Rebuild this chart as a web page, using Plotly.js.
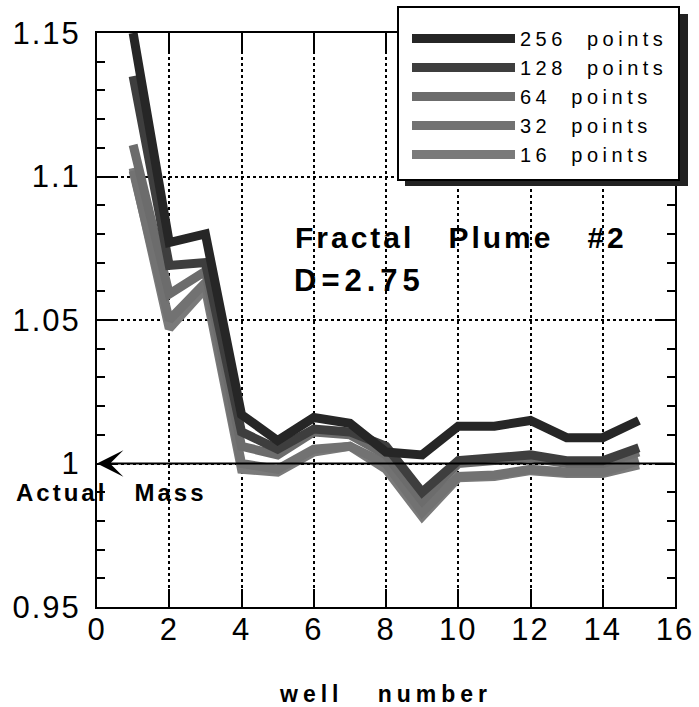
<!DOCTYPE html>
<html>
<head>
<meta charset="utf-8">
<script src="https://cdn.plot.ly/plotly-3.0.1.min.js"></script>
<style>
  html, body { margin: 0; padding: 0; background: #fff; }
  #chart { width: 699px; height: 707px; }
  .xtick text, .ytick text { letter-spacing: 2px; }
  .legendtext { letter-spacing: 4.5px; }
  .annotation-text { letter-spacing: 3px; }
  .annotation[data-index="3"] .annotation-text { letter-spacing: 5px; }
  .g-xtitle text { letter-spacing: 5px; }
</style>
</head>
<body>
<div id="chart"></div>
<script>
// ---- data ----
const wellNumber = [1, 2, 3, 4, 5, 6, 7, 8, 9, 10, 11, 12, 13, 14, 15];
const pts256 = [1.150, 1.077, 1.080, 1.017, 1.008, 1.016, 1.014, 1.004, 1.003, 1.013, 1.013, 1.015, 1.009, 1.009, 1.015];
const pts128 = [1.135, 1.069, 1.070, 1.011, 1.005, 1.012, 1.011, 1.006, 0.990, 1.001, 1.002, 1.003, 1.001, 1.001, 1.0055];
const pts64  = [1.111, 1.059, 1.067, 1.006, 1.003, 1.011, 1.010, 1.003, 0.987, 1.000, 1.001, 1.002, 1.000, 1.000, 1.004];
const pts32  = [1.102, 1.050, 1.063, 1.000, 0.998, 1.005, 1.006, 1.000, 0.983, 0.9955, 0.996, 0.998, 0.997, 0.997, 1.001];
const pts16  = [1.103, 1.047, 1.061, 0.998, 0.997, 1.004, 1.006, 0.998, 0.9815, 0.995, 0.9955, 0.9975, 0.9965, 0.9965, 0.9995];
const seriesNames = ['256\u00a0\u00a0points', '128\u00a0\u00a0points', '64\u00a0\u00a0points', '32\u00a0\u00a0points', '16\u00a0\u00a0points'];
const actualMass = 1;
const xTickVals = [0, 2, 4, 6, 8, 10, 12, 14, 16];
const yTickVals = [0.95, 1, 1.05, 1.1, 1.15];
const yTickText = ['0.95', '1', '1.05', '1.1', '1.15'];

const seriesData = [pts256, pts128, pts64, pts32, pts16];
const seriesColors = ['#262626', '#3e3e3e', '#6c6c6c', '#727272', '#7a7a7a'];

// draw 16 first, 256 last (on top); legend reversed
const traces = [];
for (let i = seriesData.length - 1; i >= 0; i--) {
  traces.push({
    type: 'scatter', mode: 'lines',
    x: wellNumber, y: seriesData[i], name: seriesNames[i],
    line: { color: seriesColors[i], width: 9 },
    cliponaxis: true, hoverinfo: 'skip'
  });
}

const FONT = 'Liberation Sans, Arial, Helvetica, sans-serif';
const W = 699, H = 707;
const m = { l: 97, r: 24, t: 33, b: 100 };
const pw = W - m.l - m.r, ph = H - m.t - m.b;
const px2x = p => (p - m.l) / pw;
const py2y = p => (H - m.b - p) / ph;

const layout = {
  width: W, height: H,
  margin: m,
  paper_bgcolor: '#fff', plot_bgcolor: '#fff',
  showlegend: true,
  font: { family: FONT, color: '#000' },
  xaxis: {
    range: [0, 16], tickvals: xTickVals, ticktext: xTickVals.map(String),
    ticks: 'inside', ticklen: 18, tickwidth: 2, tickcolor: '#000',
    showline: true, linecolor: '#000', linewidth: 2, mirror: 'ticks',
    showgrid: true, gridcolor: '#000', gridwidth: 2, griddash: 'dot',
    zeroline: false,
    tickfont: { family: FONT, size: 31, color: '#000' },
    ticklabelstandoff: -6,
    title: { text: '\u200b\u200b\u200b\u200bwell\u00a0\u00a0\u00a0number', font: { family: FONT, size: 23, weight: 'bold', color: '#000' }, standoff: 48 }
  },
  yaxis: {
    range: [0.95, 1.15], tickvals: yTickVals, ticktext: yTickText,
    ticks: 'inside', ticklen: 18, tickwidth: 2, tickcolor: '#000',
    minor: { dtick: 0.01, ticks: 'inside', ticklen: 8, tickwidth: 2, tickcolor: '#000', showgrid: false },
    showline: true, linecolor: '#000', linewidth: 2, mirror: 'ticks',
    showgrid: true, gridcolor: '#000', gridwidth: 2, griddash: 'dot',
    zeroline: false,
    tickfont: { family: FONT, size: 31, color: '#000' },
    ticklabelstandoff: 8
  },
  legend: {
    x: px2x(407), y: py2y(19), xanchor: 'left', yanchor: 'top',
    bgcolor: 'rgba(0,0,0,0)', borderwidth: 0,
    traceorder: 'reversed', itemwidth: 103,
    font: { family: FONT, size: 20, color: '#000' }
  },
  shapes: [
    {
      type: 'rect', xref: 'paper', yref: 'paper', layer: 'above',
      x0: px2x(405), x1: px2x(688), y0: py2y(186), y1: py2y(14),
      fillcolor: '#222', line: { width: 0 }
    },
    {
      type: 'rect', xref: 'paper', yref: 'paper', layer: 'above',
      x0: px2x(398), x1: px2x(679), y0: py2y(180), y1: py2y(7),
      fillcolor: '#fff', line: { color: '#000', width: 2 }
    }
  ],
  annotations: [
    {
      xref: 'x', yref: 'y', axref: 'x', ayref: 'y',
      x: 0, y: actualMass, ax: 16, ay: actualMass,
      text: '', showarrow: true, arrowhead: 3, arrowsize: 2.2, arrowwidth: 2, arrowcolor: '#000'
    },
    {
      xref: 'paper', yref: 'paper', x: px2x(14), y: py2y(492),
      xanchor: 'left', yanchor: 'middle', showarrow: false,
      text: 'Actual\u00a0\u00a0\u2009Mass', font: { family: FONT, size: 24, weight: 'bold', color: '#000' }
    },
    {
      xref: 'paper', yref: 'paper', x: px2x(293), y: py2y(238),
      xanchor: 'left', yanchor: 'middle', showarrow: false,
      text: 'Fractal\u00a0\u00a0\u00a0Plume\u00a0\u00a0\u00a0#2', font: { family: FONT, size: 30, weight: 'bold', color: '#000' }
    },
    {
      xref: 'paper', yref: 'paper', x: px2x(298), y: py2y(280),
      xanchor: 'left', yanchor: 'middle', showarrow: false,
      text: 'D=2.75', font: { family: FONT, size: 31, weight: 'bold', color: '#000' }
    }
  ]
};

Plotly.newPlot('chart', traces, layout, { staticPlot: true, displayModeBar: false });
</script>
</body>
</html>
